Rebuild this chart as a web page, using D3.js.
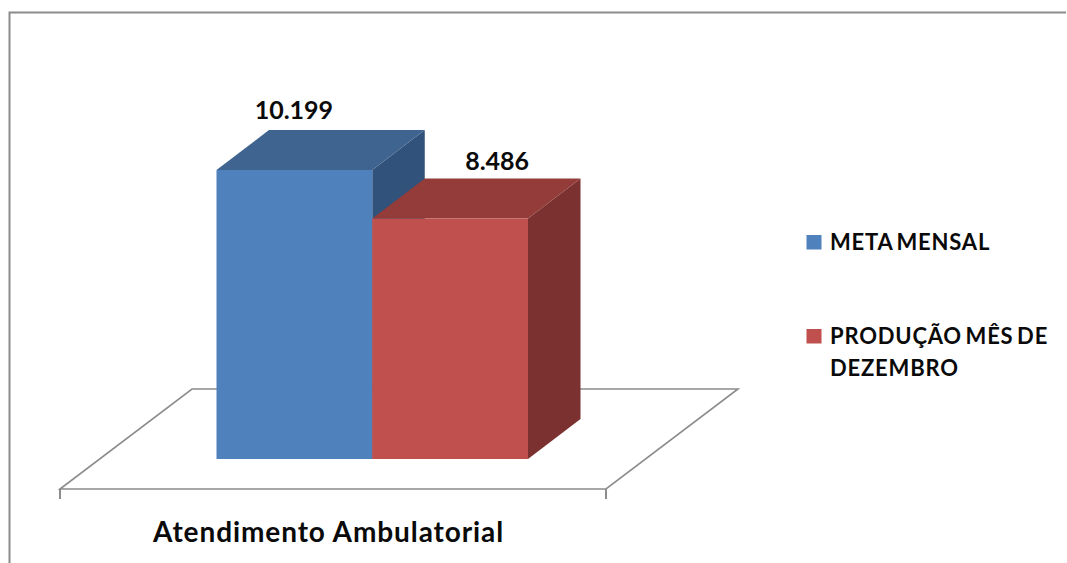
<!DOCTYPE html>
<html lang="pt">
<head>
<meta charset="utf-8">
<script src="https://cdn.jsdelivr.net/npm/d3@7/dist/d3.min.js"></script>
<style>
  html, body { margin: 0; padding: 0; background: #fff; }
  svg { display: block; }
  text { font-family: Lato, "Open Sans", sans-serif; font-weight: 700; fill: #0a0a0a; }
</style>
</head>
<body>
<svg id="chart" width="1067" height="563"></svg>
<script>
// Chart data
const categories = ["Atendimento Ambulatorial"];
const seriesNames = ["META MENSAL", "PRODUÇÃO MÊS DE DEZEMBRO"];
const seriesValues = [10199, 8486];
const valueLabels = ["10.199", "8.486"];
const legendLines = [["META MENSAL"], ["PRODUÇÃO MÊS DE", "DEZEMBRO"]];

const frontColors = ["#4f81bd", "#c0504d"];
const topColors = ["#3f6490", "#933c39"];
const sideColors = ["#31527a", "#7a312f"];
const gridColor = "#8c8c8c";

// Manual placement of each value label relative to its bar's front face
const labelShiftX = [-0.5, 47];
const labelShiftY = [-51, -48.5];

const svg = d3.select("#chart");

// Oblique projection offset for the depth of the 3D bars
const depthX = 52.5, depthY = -40;

const y = d3.scaleLinear().domain([0, 10199]).range([459, 170]);
const xCategory = d3.scaleBand().domain(categories).range([60, 606]);
const xSeries = d3.scaleBand().domain(seriesNames).range([216.5, 528]);

// Outer frame, open at the right and bottom edges
svg.append("path")
  .attr("d", "M9.5,563V12.5H1066")
  .attr("fill", "none")
  .attr("stroke", gridColor)
  .attr("stroke-width", 2);

// Floor plane
const floorFrontY = 489, floorBackY = 389, floorDx = 132;
const [fx0, fx1] = xCategory.range();
svg.append("path")
  .attr("d", `M${fx0},${floorFrontY}L${fx1},${floorFrontY}L${fx1 + floorDx},${floorBackY}L${fx0 + floorDx},${floorBackY}Z`)
  .attr("fill", "#fff")
  .attr("stroke", gridColor)
  .attr("stroke-width", 1.6)
  .attr("stroke-linejoin", "miter");

// Category axis ticks and label
svg.append("g").selectAll("line")
  .data([fx0, fx1])
  .join("line")
  .attr("x1", d => d).attr("x2", d => d)
  .attr("y1", floorFrontY).attr("y2", floorFrontY + 10)
  .attr("stroke", gridColor)
  .attr("stroke-width", 2);

svg.append("text")
  .attr("x", xCategory(categories[0]) + xCategory.bandwidth() / 2 - 4.5)
  .attr("y", 542)
  .attr("text-anchor", "middle")
  .attr("font-size", 28)
  .attr("letter-spacing", 0.9)
  .text(categories[0]);

// 3D bars, each made of a top face, a side face and a front face
const bars = svg.append("g").selectAll("g")
  .data(seriesNames.map((name, i) => ({ name, value: seriesValues[i], i })))
  .join("g");

const poly = pts => "M" + pts.map(p => p.join(",")).join("L") + "Z";

bars.append("path")
  .attr("fill", d => sideColors[d.i])
  .attr("d", d => {
    const r = xSeries(d.name) + xSeries.bandwidth();
    return poly([[r, y(d.value)], [r + depthX, y(d.value) + depthY], [r + depthX, y(0) + depthY], [r, y(0)]]);
  });

bars.append("path")
  .attr("fill", d => topColors[d.i])
  .attr("d", d => {
    const l = xSeries(d.name), r = l + xSeries.bandwidth();
    return poly([[l, y(d.value)], [l + depthX, y(d.value) + depthY], [r + depthX, y(d.value) + depthY], [r, y(d.value)]]);
  });

bars.append("rect")
  .attr("fill", d => frontColors[d.i])
  .attr("x", d => xSeries(d.name))
  .attr("y", d => y(d.value))
  .attr("width", xSeries.bandwidth())
  .attr("height", d => y(0) - y(d.value));

// Value labels above the bars
bars.append("text")
  .attr("x", d => xSeries(d.name) + xSeries.bandwidth() / 2 + labelShiftX[d.i])
  .attr("y", d => y(d.value) + labelShiftY[d.i])
  .attr("text-anchor", "middle")
  .attr("font-size", 25)
  .text(d => valueLabels[d.i]);

// Legend
const legendY = d3.scalePoint().domain(seriesNames).range([242, 336]);
const legend = svg.append("g").selectAll("g")
  .data(seriesNames.map((name, i) => ({ name, i })))
  .join("g")
  .attr("transform", d => `translate(0,${legendY(d.name)})`);

legend.append("rect")
  .attr("x", 806.5).attr("y", -7)
  .attr("width", 15).attr("height", 14.5)
  .attr("fill", d => frontColors[d.i]);

legend.each(function (d) {
  d3.select(this).selectAll("text")
    .data(legendLines[d.i])
    .join("text")
    .attr("x", 830)
    .attr("y", (_, k) => 8 + k * 32)
    .attr("font-size", 22)
    .attr("letter-spacing", 0.8)
    .attr("word-spacing", -2.5)
    .text(t => t);
});
</script>
</body>
</html>
